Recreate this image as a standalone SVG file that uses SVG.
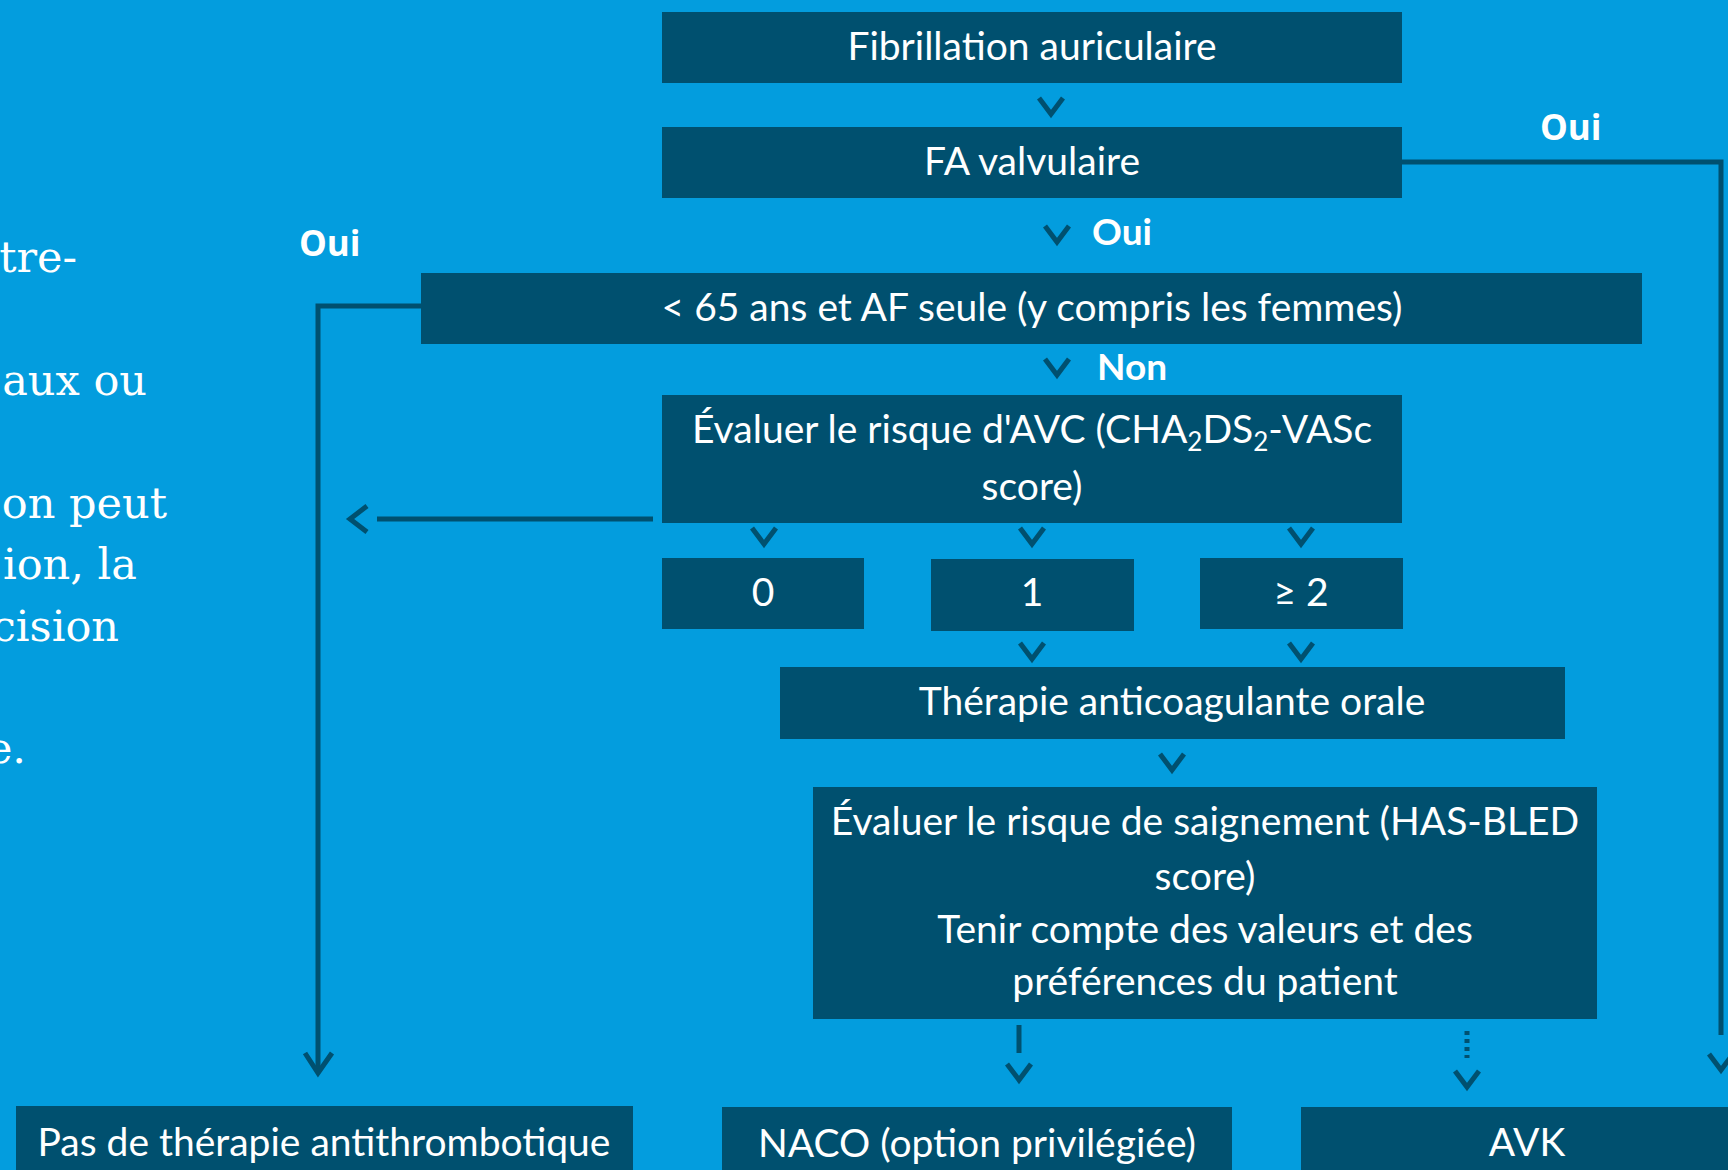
<svg xmlns="http://www.w3.org/2000/svg" width="1728" height="1170" viewBox="0 0 1728 1170">
<style>
.bg{fill:#039DDE}
.box{fill:#00506F}
.t{font-family:Lato,"Open Sans",sans-serif;font-size:39px;fill:#fff;text-anchor:middle}
.lbl{font-family:Lato,sans-serif;font-weight:bold;font-size:37px;fill:#fff}
.lbl2{font-family:"Open Sans",sans-serif;font-weight:bold;font-size:35px;fill:#fff}
.side{font-family:"DejaVu Serif",serif;font-size:43px;fill:#fff;text-anchor:end}
.ln{fill:none;stroke:#00506F;stroke-width:5}
.ch{fill:none;stroke:#00506F;stroke-width:5;stroke-linejoin:miter}
</style>
<defs>
<path id="chev" class="ch" d="M-12,0 L0,16 L12,0"/>
</defs>
<rect class="bg" x="0" y="0" width="1728" height="1170"/>
<g id="sidetext">
<text class="side" x="77" y="272">tre-</text>
<text class="side" x="147" y="395">aux ou</text>
<text class="side" x="167" y="518">on peut</text>
<text class="side" x="137" y="579">ion, la</text>
<text class="side" x="119" y="641">cision</text>
<text class="side" x="26" y="763">e.</text>
</g>
<g id="connectors">
<use href="#chev" x="1051" y="98"/>
<use href="#chev" x="1057" y="226"/>
<use href="#chev" x="1057" y="359"/>
<use href="#chev" x="764" y="528"/>
<use href="#chev" x="1032" y="528"/>
<use href="#chev" x="1301" y="528"/>
<use href="#chev" x="1032" y="643"/>
<use href="#chev" x="1301" y="643"/>
<use href="#chev" x="1172" y="754"/>
<path class="ln" d="M1402,162 H1721 V1035"/>
<use href="#chev" x="1721" y="1054"/>
<path class="ln" d="M421,306 H318 V1073"/>
<path class="ch" d="M305,1053 L318,1073 L332,1053"/>
<path class="ln" d="M653,519 H377"/>
<path class="ch" d="M367,506 L350,519 L367,532"/>
<path class="ln" d="M1019,1025 V1053"/>
<use href="#chev" x="1019" y="1064"/>
<path class="ln" d="M1467,1031 V1058" stroke-dasharray="4 4" stroke-width="4"/>
<use href="#chev" x="1467" y="1071"/>
</g>
<g id="labels">
<text class="lbl" x="1092" y="245">Oui</text>
<text class="lbl" x="1097" y="380">Non</text>
<text class="lbl2" x="1540" y="140">Oui</text>
<text class="lbl2" x="299" y="256">Oui</text>
</g>
<g id="n-fa">
<rect class="box" x="662" y="12" width="740" height="71"/>
<text class="t" x="1032" y="60">Fibrillation auriculaire</text>
</g>
<g id="n-valv">
<rect class="box" x="662" y="127" width="740" height="71"/>
<text class="t" x="1032" y="175">FA valvulaire</text>
</g>
<g id="n-65">
<rect class="box" x="421" y="273" width="1221" height="71"/>
<text class="t" x="1032" y="321">&lt; 65 ans et AF seule (y compris les femmes)</text>
</g>
<g id="n-avc">
<rect class="box" x="662" y="395" width="740" height="128"/>
<text class="t" x="1032" y="443">Évaluer le risque d'AVC (CHA<tspan font-size="26" dy="8">2</tspan><tspan dy="-8">DS</tspan><tspan font-size="26" dy="8">2</tspan><tspan dy="-8">-VASc</tspan></text>
<text class="t" x="1032" y="500">score)</text>
</g>
<g id="n-0">
<rect class="box" x="662" y="558" width="202" height="71"/>
<text class="t" x="763" y="606">0</text>
</g>
<g id="n-1">
<rect class="box" x="931" y="559" width="203" height="72"/>
<text class="t" x="1032" y="606">1</text>
</g>
<g id="n-2">
<rect class="box" x="1200" y="558" width="203" height="71"/>
<text class="t" x="1301" y="606">≥ 2</text>
</g>
<g id="n-oral">
<rect class="box" x="780" y="667" width="785" height="72"/>
<text class="t" x="1172" y="715">Thérapie anticoagulante orale</text>
</g>
<g id="n-bleed">
<rect class="box" x="813" y="787" width="784" height="232"/>
<text class="t" x="1205" y="835">Évaluer le risque de saignement (HAS-BLED</text>
<text class="t" x="1205" y="890">score)</text>
<text class="t" x="1205" y="943">Tenir compte des valeurs et des</text>
<text class="t" x="1205" y="995">préférences du patient</text>
</g>
<g id="n-none">
<rect class="box" x="16" y="1106" width="617" height="70"/>
<text class="t" x="324" y="1156">Pas de thérapie antithrombotique</text>
</g>
<g id="n-naco">
<rect class="box" x="722" y="1107" width="510" height="70"/>
<text class="t" x="977" y="1157">NACO (option privilégiée)</text>
</g>
<g id="n-avk">
<rect class="box" x="1301" y="1107" width="440" height="70"/>
<text class="t" x="1527" y="1156">AVK</text>
</g>
</svg>
